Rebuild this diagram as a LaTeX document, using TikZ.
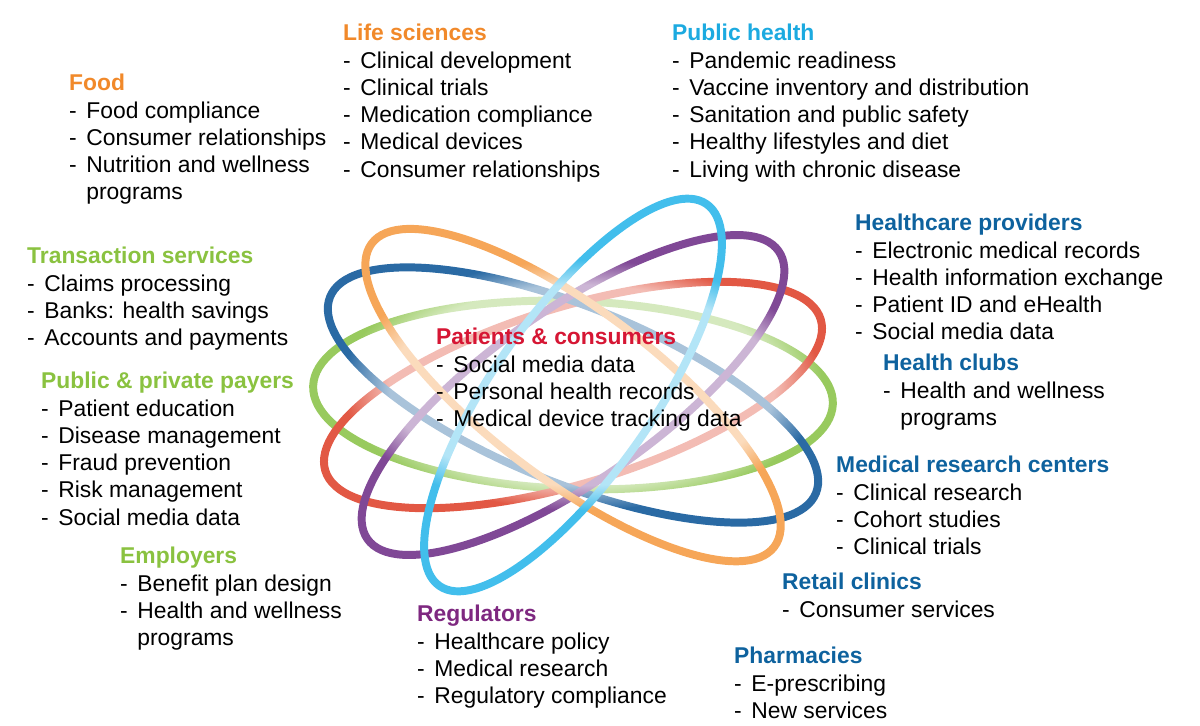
\documentclass[tikz,border=0pt]{standalone}
\usepackage{fontspec}
\setmainfont{Liberation Sans}
\usetikzlibrary{positioning,fadings}
\definecolor{ringorange}{RGB}{246,166,88}
\definecolor{ringcyan}{RGB}{66,190,236}
\definecolor{ringpurple}{RGB}{128,72,150}
\definecolor{ringred}{RGB}{226,88,68}
\definecolor{ringgreen}{RGB}{152,202,94}
\definecolor{ringblue}{RGB}{42,106,164}
\definecolor{headorange}{RGB}{241,137,42}
\definecolor{headcyan}{RGB}{28,170,224}
\definecolor{headpurple}{RGB}{126,40,128}
\definecolor{headred}{RGB}{214,22,52}
\definecolor{headgreen}{RGB}{138,194,64}
\definecolor{headblue}{RGB}{14,98,158}
\tikzset{
  ring/.style={line width=6.8pt},
  grp/.style={anchor=north west,align=left,inner sep=0pt,font=\fontsize{19.5}{23.3}\selectfont}
}
\newcommand{\grouphead}[2]{\textcolor{#1}{\bfseries #2}}
\newcommand{\itm}{-\hspace{0.42em}}
\newcommand{\wrapitem}{\hphantom{\itm}}

\begin{document}
\begin{tikzpicture}[x=0.03cm,y=-0.03cm]
  \useasboundingbox (0,0) rectangle (1200,726);
  \coordinate (hub) at (573,395);

  % the six rings
  \draw[ring,ringgreen,rotate around={-2:(hub)}] (hub) ellipse [x radius=260,y radius=94];
  \draw[ring,ringred,rotate around={17:(hub)}] (hub) ellipse [x radius=259,y radius=88];
  \draw[ring,ringblue,rotate around={-22:(hub)}] (hub) ellipse [x radius=262,y radius=88];
  \draw[ring,ringpurple,rotate around={35:(hub)}] (hub) ellipse [x radius=251,y radius=85];
  \draw[ring,ringorange,rotate around={-37:(hub)}] (hub) ellipse [x radius=252,y radius=85];
  \draw[ring,ringcyan,rotate around={55:(hub)}] (hub) ellipse [x radius=233,y radius=80];
  \fill[white,fill opacity=0.6,path fading=circle with fuzzy edge 20 percent] (582,385) ellipse [x radius=240,y radius=125];

  \node[grp] (patients) at (436,328) {\grouphead{headred}{Patients \& consumers}\\
    \itm Social media data\\ \itm Personal health records\\ \itm Medical device tracking data};

  \node[grp] (food) at (69,74) {\grouphead{headorange}{Food}\\
    \itm Food compliance\\ \itm Consumer relationships\\ \itm Nutrition and wellness\\ \wrapitem programs};
  \node[grp] (lifesci) at (343,24) {\grouphead{headorange}{Life sciences}\\
    \itm Clinical development\\ \itm Clinical trials\\ \itm Medication compliance\\ \itm Medical devices\\ \itm Consumer relationships};
  \node[grp] (pubhealth) at (672,24) {\grouphead{headcyan}{Public health}\\
    \itm Pandemic readiness\\ \itm Vaccine inventory and distribution\\ \itm Sanitation and public safety\\ \itm Healthy lifestyles and diet\\ \itm Living with chronic disease};
  \node[grp] (providers) at (855,214) {\grouphead{headblue}{Healthcare providers}\\
    \itm Electronic medical records\\ \itm Health information exchange\\ \itm Patient ID and eHealth\\ \itm Social media data};
  \node[grp] (clubs) at (883,354) {\grouphead{headblue}{Health clubs}\\
    \itm Health and wellness\\ \wrapitem programs};
  \node[grp] (research) at (836,456) {\grouphead{headblue}{Medical research centers}\\
    \itm Clinical research\\ \itm Cohort studies\\ \itm Clinical trials};
  \node[grp] (retail) at (782,573) {\grouphead{headblue}{Retail clinics}\\
    \itm Consumer services};
  \node[grp] (pharma) at (734,647) {\grouphead{headblue}{Pharmacies}\\
    \itm E-prescribing\\ \itm New services};
  \node[grp] (regulators) at (417,605) {\grouphead{headpurple}{Regulators}\\
    \itm Healthcare policy\\ \itm Medical research\\ \itm Regulatory compliance};
  \node[grp] (employers) at (120,547) {\grouphead{headgreen}{Employers}\\
    \itm Benefit plan design\\ \itm Health and wellness\\ \wrapitem programs};
  \node[grp] (payers) at (41,372) {\grouphead{headgreen}{Public \& private payers}\\
    \itm Patient education\\ \itm Disease management\\ \itm Fraud prevention\\ \itm Risk management\\ \itm Social media data};
  \node[grp] (transact) at (27,247) {\grouphead{headgreen}{Transaction services}\\
    \itm Claims processing\\ \itm Banks: health savings\\ \itm Accounts and payments};
\end{tikzpicture}
\end{document}
